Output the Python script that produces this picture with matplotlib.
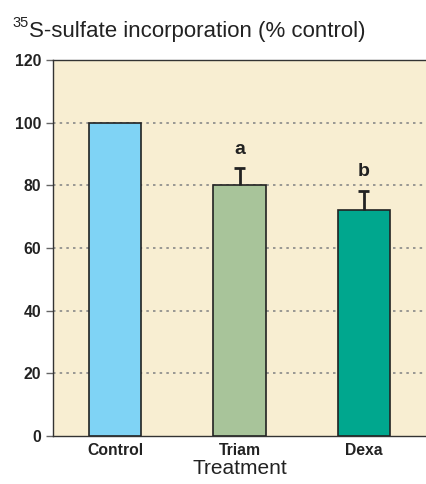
import numpy as np
import matplotlib.pyplot as plt

plt.rcParams['font.family'] = ['Liberation Sans', 'DejaVu Sans']

# data
treatments = ['Control', 'Triam', 'Dexa']
values = [100, 80, 72]
errors = [0, 5.4, 6.2]
letters = ['', 'a', 'b']
letter_y = [0, 91.3, 84.5]
colors = ['#7fd3f5', '#a8c49a', '#00a78e']

fig = plt.figure(figsize=(4.26, 4.84), dpi=100)
ax = fig.add_axes([53/426, 48/484, 1 - 53/426, 376/484])
ax.set_facecolor('#f8eed2')

x = np.arange(len(treatments))
ax.bar(x, values, width=0.42, color=colors, edgecolor='#222222', linewidth=1.2, zorder=3)
for i in range(len(x)):
    if errors[i] > 0:
        top = values[i] + errors[i]
        ax.vlines(x[i], values[i], top, color='#222222', linewidth=2, zorder=4)
        ax.hlines(top, x[i] - 0.045, x[i] + 0.045, color='#222222', linewidth=2, zorder=4)
    if letters[i]:
        ax.text(x[i], letter_y[i], letters[i], ha='center', va='center',
                fontsize=14, fontweight='bold', color='#222222')

ax.set_xlim(-0.5, 2.5)
ax.set_ylim(0, 120)
ax.set_yticks(range(0, 121, 20))
ax.set_xticks(x)
ax.set_xticklabels(treatments)
for y in range(20, 101, 20):
    ax.axhline(y, color='#888888', linestyle=(0, (1.5, 2.5)), linewidth=1.2, zorder=1)

for s in ['left', 'bottom', 'top']:
    ax.spines[s].set_color('#333333')
    ax.spines[s].set_linewidth(1.0)
ax.spines['right'].set_visible(False)
ax.tick_params(axis='y', length=5, width=1, color='#666666', labelsize=11.3, labelcolor='#222222')
ax.tick_params(axis='x', length=0, pad=5, labelsize=11.3, labelcolor='#222222')
for lab in ax.get_xticklabels() + ax.get_yticklabels():
    lab.set_fontweight('bold')

ax.set_xlabel('Treatment', fontsize=15, color='#222222', labelpad=1)

# title with small superscript
fig.text(12/426, 1 - 23/484, '35', fontsize=10.5, color='#222222', va='center', ha='left')
fig.text(29/426, 1 - 31/484, 'S-sulfate incorporation (% control)',
         fontsize=16, color='#222222', va='center', ha='left')

fig.savefig('out.png', dpi=100)
